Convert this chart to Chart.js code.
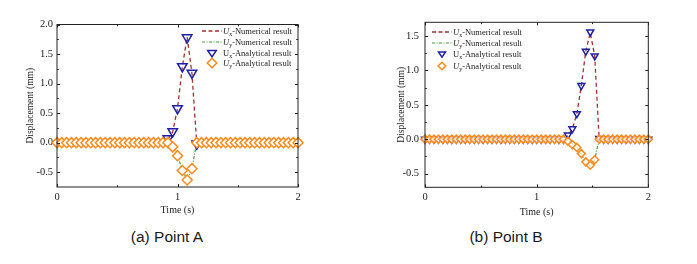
<!DOCTYPE html>
<html>
<head>
<meta charset="utf-8">
<script src="https://cdn.jsdelivr.net/npm/chart.js@4.4.1/dist/chart.umd.min.js"></script>
<style>
  body { margin: 0; background: #fff; }
  #page { position: relative; width: 697px; height: 264px; overflow: hidden; font-family: "Liberation Serif", serif; color: #1a1a1a; }
  .panel { position: absolute; top: 0; height: 264px; }
  .panel canvas { position: absolute; left: 0; top: 0; }
  .legend { position: absolute; font-size: 8.5px; }
  .legend div { display: flex; align-items: center; white-space: nowrap; }
  .legend svg { width: 20px; height: 10px; margin-right: 1px; flex: none; }
  .legend sub { font-size: 6px; vertical-align: -1.5px; line-height: 0; }
  .caption { position: absolute; top: 228px; font-family: "Liberation Sans", sans-serif; font-size: 15.5px; white-space: nowrap; transform: translateX(-50%); }
</style>
</head>
<body>
<div id="page">
  <div class="panel" style="left:0;width:350px">
    <canvas id="chartA" width="350" height="225"></canvas>
    <div class="legend" id="legendA" style="left:202px;top:26px"></div>
    <div class="caption" style="left:167px">(a) Point A</div>
  </div>
  <div class="panel" style="left:350px;width:347px">
    <canvas id="chartB" width="347" height="225"></canvas>
    <div class="legend" id="legendB" style="left:82px;top:26px"></div>
    <div class="caption" style="left:156px">(b) Point B</div>
  </div>
</div>
<script>
/* time grid (s), shared by both points */
const time = [0, 0.04, 0.08, 0.12, 0.16, 0.2, 0.24, 0.28, 0.32, 0.36,
  0.4, 0.44, 0.48, 0.52, 0.56, 0.6, 0.64, 0.68, 0.72, 0.76,
  0.8, 0.84, 0.88, 0.92, 0.96, 1.0, 1.04, 1.08, 1.12, 1.16,
  1.2, 1.24, 1.28, 1.32, 1.36, 1.4, 1.44, 1.48, 1.52, 1.56,
  1.6, 1.64, 1.68, 1.72, 1.76, 1.8, 1.84, 1.88, 1.92, 1.96,
  2.0];

/* Point A displacement (mm) */
const uxNumA = [0, 0, 0, 0, 0, 0, 0, 0, 0, 0,
  0, 0, 0, 0, 0, 0, 0, 0, 0, 0,
  0, 0, 0, 0.06, 0.18, 0.58, 1.28, 1.79, 1.17, -0.02,
  0, 0, 0, 0, 0, 0, 0, 0, 0, 0,
  0, 0, 0, 0, 0, 0, 0, 0, 0, 0,
  0];
const uyNumA = [0, 0, 0, 0, 0, 0, 0, 0, 0, 0,
  0, 0, 0, 0, 0, 0, 0, 0, 0, 0,
  0, 0, 0, -0.01, -0.07, -0.22, -0.46, -0.63, -0.43, 0,
  0, 0, 0, 0, 0, 0, 0, 0, 0, 0,
  0, 0, 0, 0, 0, 0, 0, 0, 0, 0,
  0];
/* Ux markers are hidden under the Uy ones outside the pulse, so only the pulse is kept */
const uxAnaA = [null, null, null, null, null, null, null, null, null, null,
  null, null, null, null, null, null, null, null, null, null,
  null, null, null, 0.07, 0.19, 0.58, 1.29, 1.78, 1.18, -0.02,
  null, null, null, null, null, null, null, null, null, null,
  null, null, null, null, null, null, null, null, null, null,
  null];
const uyAnaA = [0, 0, 0, 0, 0, 0, 0, 0, 0, 0,
  0, 0, 0, 0, 0, 0, 0, 0, 0, 0,
  0, 0, 0, 0, -0.07, -0.22, -0.47, -0.63, -0.44, 0,
  0, 0, 0, 0, 0, 0, 0, 0, 0, 0,
  0, 0, 0, 0, 0, 0, 0, 0, 0, 0,
  0];

/* Point B displacement (mm) */
const uxNumB = [0, 0, 0, 0, 0, 0, 0, 0, 0, 0,
  0, 0, 0, 0, 0, 0, 0, 0, 0, 0,
  0, 0, 0, 0, 0, 0, 0, 0, 0, 0,
  0, 0, 0.05, 0.15, 0.37, 0.78, 1.28, 1.55, 1.21, 0,
  -0.02, 0.01, 0.03, -0.02, 0.02, 0.03, -0.01, 0.02, -0.02, 0.01,
  0];
const uyNumB = [0, 0, 0, 0, 0, 0, 0, 0, 0, 0,
  0, 0, 0, 0, 0, 0, 0, 0, 0, 0,
  0, 0, 0, 0, 0, 0, 0, 0, 0, 0,
  0, 0, -0.02, -0.07, -0.12, -0.22, -0.33, -0.39, -0.30, 0,
  0, 0, 0, 0, 0, 0, 0, 0, 0, 0,
  0];
const uxAnaB = [0, 0, 0, 0, 0, 0, 0, 0, 0, 0,
  0, 0, 0, 0, 0, 0, 0, 0, 0, 0,
  0, 0, 0, 0, 0, 0, 0, 0, 0, 0,
  0, 0, 0.06, 0.15, 0.37, 0.78, 1.28, 1.56, 1.21, 0.01,
  0, 0, 0, 0, 0, 0, 0, 0, 0, 0,
  0];
const uyAnaB = [0, 0, 0, 0, 0, 0, 0, 0, 0, 0,
  0, 0, 0, 0, 0, 0, 0, 0, 0, 0,
  0, 0, 0, 0, 0, 0, 0, 0, 0, 0,
  0, 0, -0.03, -0.08, -0.12, -0.21, -0.33, -0.38, -0.30, 0,
  0, 0, 0, 0, 0, 0, 0, 0, 0, 0,
  0];

/* axis ticks */
const xMajor = [0, 1, 2];
const xMinor = [0.5, 1.5];
const yMajorA = [-0.5, 0, 0.5, 1, 1.5, 2];
const yMinorA = [-0.25, 0.25, 0.75, 1.25, 1.75];
const yMajorB = [-0.5, 0, 0.5, 1, 1.5];
const yMinorB = [-0.25, 0.25, 0.75, 1.25];

const RED = "#a0302e";
const GREEN = "#3c9e3c";
const BLUE = "#1f1fa3";
const ORANGE = "#ff8a1c";
const SERIF = "'Liberation Serif', serif";

function pts(arr) {
  return time.map((t, i) => ({ x: t, y: arr[i] }));
}

/* box round the plot, with inward major/minor ticks on all four sides */
const frameTicks = {
  id: "frameTicks",
  afterDraw(chart, args, opts) {
    const { ctx, chartArea: a } = chart;
    const x = chart.scales.x;
    const y = chart.scales.y;
    ctx.save();
    ctx.strokeStyle = "#222";
    ctx.lineWidth = 1;
    ctx.strokeRect(a.left, a.top, a.right - a.left, a.bottom - a.top);
    ctx.beginPath();
    const xt = (v, len) => {
      const p = Math.round(x.getPixelForValue(v)) + 0.5;
      ctx.moveTo(p, a.bottom); ctx.lineTo(p, a.bottom - len);
      ctx.moveTo(p, a.top); ctx.lineTo(p, a.top + len);
    };
    const yt = (v, len) => {
      const p = Math.round(y.getPixelForValue(v)) + 0.5;
      ctx.moveTo(a.left, p); ctx.lineTo(a.left + len, p);
      ctx.moveTo(a.right, p); ctx.lineTo(a.right - len, p);
    };
    xMajor.forEach(v => xt(v, 3));
    xMinor.forEach(v => xt(v, 1.8));
    opts.yMajor.forEach(v => yt(v, 3));
    opts.yMinor.forEach(v => yt(v, 1.8));
    ctx.stroke();
    ctx.restore();
  }
};

function makeChart(id, p) {
  const ctx = document.getElementById(id).getContext("2d");
  return new Chart(ctx, {
    type: "scatter",
    data: {
      datasets: [
        {
          label: "Ux-Analytical result",
          data: pts(p.uxAna),
          showLine: false,
          pointStyle: "triangle",
          rotation: 180,
          pointRadius: p.triR,
          borderWidth: 1.5,
          borderColor: BLUE,
          backgroundColor: "rgba(0,0,0,0)",
          clip: false,
          order: 1
        },
        {
          label: "Uy-Analytical result",
          data: pts(p.uyAna),
          showLine: false,
          pointStyle: "rectRot",
          pointRadius: p.diaR,
          borderWidth: 1.5,
          borderColor: ORANGE,
          backgroundColor: p.diaFill,
          clip: false,
          order: 0
        },
        {
          label: "Ux-Numerical result",
          data: pts(p.uxNum),
          showLine: true,
          pointRadius: 0,
          borderColor: RED,
          borderWidth: 1.3,
          borderDash: [4, 3],
          tension: 0,
          order: 2
        },
        {
          label: "Uy-Numerical result",
          data: pts(p.uyNum),
          showLine: true,
          pointRadius: 0,
          borderColor: GREEN,
          borderWidth: 1.2,
          borderDash: [3, 1.5, 1, 1.5],
          tension: 0,
          order: 3
        }
      ]
    },
    options: {
      responsive: false,
      animation: false,
      events: [],
      layout: { padding: p.padding },
      plugins: {
        legend: { display: false },
        tooltip: { enabled: false },
        frameTicks: { yMajor: p.yMajor, yMinor: p.yMinor }
      },
      scales: {
        x: {
          type: "linear",
          min: 0,
          max: 2,
          afterBuildTicks: s => { s.ticks = xMajor.map(v => ({ value: v })); },
          afterFit: s => { s.height = p.xHeight; },
          grid: { display: false, drawTicks: false },
          border: { display: false },
          ticks: { color: "#222", padding: 4, maxRotation: 0, font: { family: SERIF, size: 10.5 } },
          title: { display: true, text: "Time (s)", color: "#222", padding: { top: 0, bottom: p.xTitlePad }, font: { family: SERIF, size: 10 } }
        },
        y: {
          min: p.yMin,
          max: p.yMax,
          afterBuildTicks: s => { s.ticks = p.yMajor.map(v => ({ value: v })); },
          afterFit: s => { s.width = p.yWidth; },
          grid: { display: false, drawTicks: false },
          border: { display: false },
          ticks: {
            color: "#222",
            padding: p.yTickPad,
            font: { family: SERIF, size: 10.5 },
            callback: v => v.toFixed(1)
          },
          title: { display: true, text: "Displacement (mm)", color: "#222", padding: { top: p.yTitlePad, bottom: 0 }, font: { family: SERIF, size: 9.5 } }
        }
      }
    },
    plugins: [frameTicks]
  });
}

makeChart("chartA", {
  uxNum: uxNumA, uyNum: uyNumA, uxAna: uxAnaA, uyAna: uyAnaA,
  yMin: -0.75, yMax: 2, yMajor: yMajorA, yMinor: yMinorA,
  padding: { left: 12, right: 52, top: 24.5, bottom: 0 },
  yWidth: 45, xHeight: 38, yTickPad: 4, yTitlePad: 13, xTitlePad: 9,
  triR: 5.5, diaR: 5, diaFill: "#ffffff"
});

makeChart("chartB", {
  uxNum: uxNumB, uyNum: uyNumB, uxAna: uxAnaB, uyAna: uyAnaB,
  yMin: -0.7, yMax: 1.7, yMajor: yMajorB, yMinor: yMinorB,
  padding: { left: 22, right: 48.7, top: 22.3, bottom: 0 },
  yWidth: 53, xHeight: 37.7, yTickPad: 6, yTitlePad: 24, xTitlePad: 7,
  triR: 4, diaR: 4, diaFill: "rgba(255,255,255,0.75)"
});

/* html legends, so the subscripts stay real text */
function buildLegend(id, rowH, triR, diaR) {
  const t = triR * 0.9;
  const d = diaR * 0.95;
  const rows = [
    [`<line x1="0" y1="5" x2="20" y2="5" stroke="${RED}" stroke-width="1.3" stroke-dasharray="4,2.5"/>`,
      "<i>U</i><sub>x</sub>-Numerical result"],
    [`<line x1="0" y1="5" x2="20" y2="5" stroke="${GREEN}" stroke-width="1.2" stroke-dasharray="3,1.5,1,1.5"/>`,
      "<i>U</i><sub>y</sub>-Numerical result"],
    [`<polygon points="${10 - t * 0.87},${5 - t * 0.5} ${10 + t * 0.87},${5 - t * 0.5} 10,${5 + t * 0.8}" fill="none" stroke="${BLUE}" stroke-width="1.5"/>`,
      "U<sub>x</sub>-Analytical result"],
    [`<polygon points="10,${5 - d} ${10 + d},5 10,${5 + d} ${10 - d},5" fill="none" stroke="${ORANGE}" stroke-width="1.5"/>`,
      "<i>U</i><sub>y</sub>-Analytical result"]
  ];
  const box = document.getElementById(id);
  box.innerHTML = rows.map(r =>
    `<div style="height:${rowH}px"><svg viewBox="0 0 20 10" overflow="visible">${r[0]}</svg><span>${r[1]}</span></div>`
  ).join("");
}

buildLegend("legendA", 10.7, 5.5, 5);
buildLegend("legendB", 11.4, 4.5, 4);
</script>
</body>
</html>
